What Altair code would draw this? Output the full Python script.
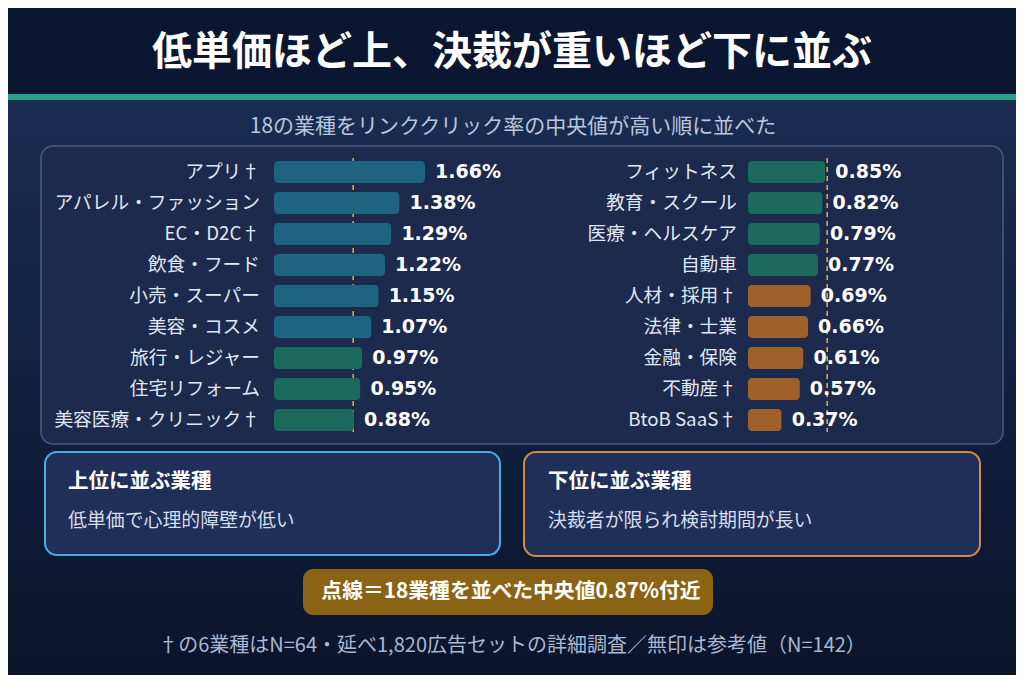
import altair as alt
import pandas as pd

# ---------------- data ----------------
left_cats = ["アプリ†", "アパレル・ファッション", "EC・D2C†", "飲食・フード", "小売・スーパー",
             "美容・コスメ", "旅行・レジャー", "住宅リフォーム", "美容医療・クリニック†"]
left_vals = [1.66, 1.38, 1.29, 1.22, 1.15, 1.07, 0.97, 0.95, 0.88]
left_tier = ["top", "top", "top", "top", "top", "top", "mid", "mid", "mid"]

right_cats = ["フィットネス", "教育・スクール", "医療・ヘルスケア", "自動車", "人材・採用†",
              "法律・士業", "金融・保険", "不動産†", "BtoB SaaS†"]
right_vals = [0.85, 0.82, 0.79, 0.77, 0.69, 0.66, 0.61, 0.57, 0.37]
right_tier = ["mid", "mid", "mid", "mid", "low", "low", "low", "low", "low"]

median_val = 0.87

title_text = "低単価ほど上、決裁が重いほど下に並ぶ"
subtitle_text = "18の業種をリンククリック率の中央値が高い順に並べた"
box_l_title = "上位に並ぶ業種"
box_l_sub = "低単価で心理的障壁が低い"
box_r_title = "下位に並ぶ業種"
box_r_sub = "決裁者が限られ検討期間が長い"
pill_text = "点線＝18業種を並べた中央値0.87%付近"
foot_text = "†の6業種はN=64・延べ1,820広告セットの詳細調査／無印は参考値（N=142）"

# ---------------- frames ----------------
left_df = pd.DataFrame({"cat": left_cats, "v": left_vals, "tier": left_tier,
                        "row": list(range(len(left_cats)))})
right_df = pd.DataFrame({"cat": right_cats, "v": right_vals, "tier": right_tier,
                         "row": list(range(len(right_cats)))})
one = pd.DataFrame({"k": [0]})

FONT = "Noto Sans CJK JP"
NUMFONT = "DejaVu Sans"
W, H = 1008, 667

yscale = alt.Scale(domain=list(range(9)), range=[148.5, 427.5], paddingInner=0.29, paddingOuter=0.145)
color_scale = alt.Scale(domain=["top", "mid", "low"], range=["#1d6481", "#1c6a5c", "#a0602a"])


def xscale(start):
    return alt.Scale(domain=[0, 1], range=[start, start + 91], nice=False, zero=True)


def deco_rect(x, x2, y, y2, **kw):
    return alt.Chart(one).mark_rect(**kw).encode(
        x=alt.value(x), x2=alt.value(x2), y=alt.value(y), y2=alt.value(y2))


def deco_text(x, y, text, font=FONT, **kw):
    return alt.Chart(one).mark_text(font=font, **kw).encode(
        x=alt.value(x), y=alt.value(y), text=alt.value(text))


# background
bg_grad = deco_rect(0, W, 92, H, color=alt.Gradient(
    gradient="linear", x1=0, x2=0, y1=0, y2=1,
    stops=[alt.GradientStop(color="#1a2c52", offset=0),
           alt.GradientStop(color="#101f3e", offset=0.55),
           alt.GradientStop(color="#0b1429", offset=1)]))
bg_head = deco_rect(0, W, 0, 86, color="#0b1730")
teal = deco_rect(0, W, 86, 92, color="#2a9d8f")

title = deco_text(504, 45, title_text, fontSize=40, fontWeight="bold", color="#ffffff",
                  align="center", baseline="middle")
subtitle = deco_text(505, 119, subtitle_text, fontSize=21, color="#b9c6de",
                     align="center", baseline="middle")

panel = deco_rect(33, 995, 138, 436, fill="#1b2a4d", stroke="#4a5c85", strokeWidth=1.5,
                  cornerRadius=12)


def column(df, start, label_x):
    xs = xscale(start)
    rule = alt.Chart(one).mark_rule(color="#e3b341", strokeDash=[5, 4], strokeWidth=1.5).encode(
        x=alt.X("m:Q", scale=xs, axis=None), y=alt.value(150), y2=alt.value(424)
    ).transform_calculate(m=str(median_val))
    bars = alt.Chart(df).mark_bar(cornerRadius=4).encode(
        x=alt.X("v:Q", scale=xs, axis=None),
        y=alt.Y("row:O", scale=yscale, axis=None),
        color=alt.Color("tier:N", scale=color_scale, legend=None),
    )
    cats = alt.Chart(df).mark_text(font=FONT, fontSize=18.7, color="#e1e8f5", align="right",
                                   baseline="middle").encode(
        x=alt.value(label_x), y=alt.Y("row:O", scale=yscale, axis=None), text="cat:N")
    vals = alt.Chart(df).mark_text(font=NUMFONT, fontSize=19, fontWeight="bold", color="#ffffff",
                                   align="left", baseline="middle", dx=10).encode(
        x=alt.X("v:Q", scale=xs, axis=None), y=alt.Y("row:O", scale=yscale, axis=None),
        text="lab:N").transform_calculate(lab="format(datum.v, '.2f') + '%'")
    return [rule, bars, cats, vals]


left_layers = column(left_df, 266, 252)
right_layers = column(right_df, 740, 729)

box_l = deco_rect(37, 492, 444, 547, fill="#1f2f57", stroke="#45aee0", strokeWidth=2, cornerRadius=12)
box_r = deco_rect(516, 972, 444, 548, fill="#1f2f57", stroke="#d48a45", strokeWidth=2, cornerRadius=12)
bl_t = deco_text(60, 474, box_l_title, fontSize=20.5, fontWeight="bold", color="#ffffff",
                 align="left", baseline="middle")
bl_s = deco_text(60, 513, box_l_sub, fontSize=18.9, color="#d5def0", align="left", baseline="middle")
br_t = deco_text(540, 474, box_r_title, fontSize=20.5, fontWeight="bold", color="#ffffff",
                 align="left", baseline="middle")
br_s = deco_text(540, 513, box_r_sub, fontSize=18.9, color="#d5def0", align="left", baseline="middle")

pill = deco_rect(295, 705, 561, 607, fill="#8a6414", cornerRadius=10)
pill_t = deco_text(503, 584, pill_text, fontSize=20.8, fontWeight="bold", color="#ffffff",
                   align="center", baseline="middle")
foot = deco_text(504, 638, foot_text, fontSize=20, color="#a9b8d2", align="center", baseline="middle")

chart = alt.layer(
    bg_grad, bg_head, teal, title, subtitle, panel,
    *left_layers, *right_layers,
    box_l, box_r, bl_t, bl_s, br_t, br_s, pill, pill_t, foot,
).resolve_scale(x="independent").properties(
    width=W, height=H, padding=0, autosize="none", background="#0b1429"
).configure_view(stroke=None)

chart.save("out.html", embed_options={"renderer": "svg", "actions": False})
